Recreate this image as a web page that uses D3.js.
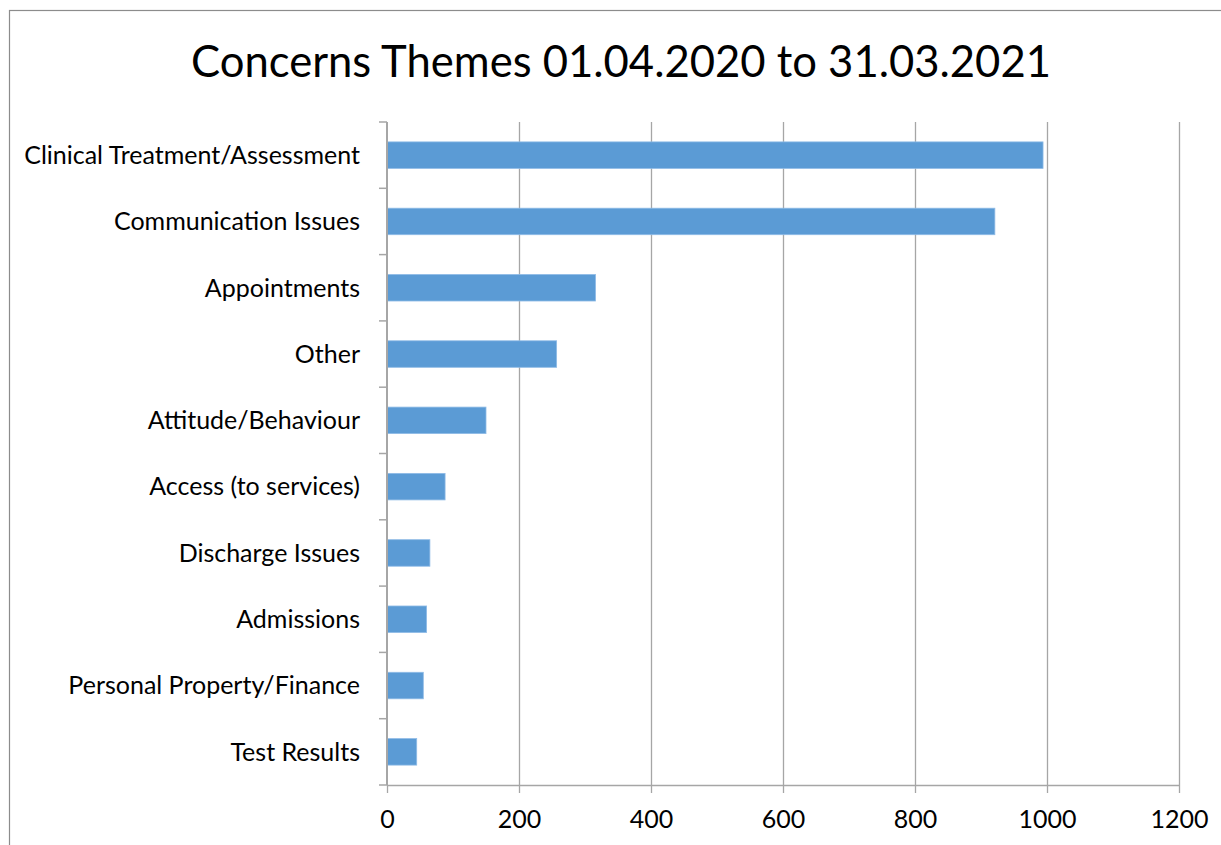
<!DOCTYPE html>
<html>
<head>
<meta charset="utf-8">
<script src="https://cdn.jsdelivr.net/npm/d3@7"></script>
<style>
  html, body { margin: 0; padding: 0; background: #fff; }
  svg { display: block; }
  text { font-family: Lato, "Open Sans", "Liberation Sans", sans-serif; fill: #000; }
</style>
</head>
<body>
<svg id="chart" width="1221" height="845"></svg>
<script>
// Concern themes, top to bottom
const categories = [
  "Clinical Treatment/Assessment",
  "Communication Issues",
  "Appointments",
  "Other",
  "Attitude/Behaviour",
  "Access (to services)",
  "Discharge Issues",
  "Admissions",
  "Personal Property/Finance",
  "Test Results"
];
// Number of concerns per theme
const counts = [994, 921, 316, 257, 150, 88, 65, 60, 55, 45];
// Value axis ticks
const xTicks = [0, 200, 400, 600, 800, 1000, 1200];
const chartTitle = "Concerns Themes 01.04.2020 to 31.03.2021";

const W = 1221, H = 845;
const plot = { left: 387, right: 1179, top: 122, bottom: 785 };

const svg = d3.select("#chart");

// Outer chart frame (runs off the right and bottom of the page)
svg.append("rect")
  .attr("x", 9.5).attr("y", 10.5)
  .attr("width", W + 20).attr("height", H + 20)
  .attr("fill", "none").attr("stroke", "#8c8c8c").attr("stroke-width", 1.2);

svg.append("text")
  .attr("x", 621).attr("y", 77)
  .attr("text-anchor", "middle")
  .style("font-size", "43.6px")
  .text(chartTitle);

const x = d3.scaleLinear().domain([0, 1200]).range([plot.left, plot.right]);
const y = d3.scaleBand().domain(categories)
  .range([plot.top, plot.bottom])
  .paddingInner(0.6).paddingOuter(0.3);

// Vertical gridlines
svg.append("g").selectAll("line")
  .data(xTicks.filter(d => d > 0))
  .join("line")
  .attr("x1", d => Math.round(x(d)) + 0.5).attr("x2", d => Math.round(x(d)) + 0.5)
  .attr("y1", plot.top).attr("y2", plot.bottom)
  .attr("stroke", "#a6a6a6").attr("stroke-width", 1.3);

// Bottom value axis
const xAxis = d3.axisBottom(x).tickValues(xTicks).tickFormat(d3.format("d"))
  .tickSize(8).tickPadding(17).tickSizeOuter(0);
const gx = svg.append("g").attr("transform", `translate(0,${plot.bottom})`).call(xAxis);
gx.select(".domain").attr("stroke", "#a6a6a6").attr("stroke-width", 1.5);
gx.selectAll(".tick line").attr("stroke", "#a6a6a6").attr("stroke-width", 1.3);
gx.selectAll(".tick text")
  .style("font-size", "25px")
  .style("font-family", "Lato, 'Open Sans', sans-serif")
  .attr("fill", "#000");

// Bars
svg.append("g").selectAll("rect")
  .data(categories.map((c, i) => ({ c, v: counts[i] })))
  .join("rect")
  .attr("x", x(0))
  .attr("y", d => y(d.c))
  .attr("width", d => x(d.v) - x(0))
  .attr("height", y.bandwidth())
  .attr("fill", "#5b9bd5")
  .attr("stroke", "#8fbbe6").attr("stroke-width", 0.8);

// Category axis line and boundary ticks
const step = y.step();
const bounds = categories.map(c => y(c) - step * y.paddingOuter()).concat([plot.bottom]);
svg.append("g").selectAll("line")
  .data(bounds)
  .join("line")
  .attr("x1", plot.left - 8).attr("x2", plot.left)
  .attr("y1", d => d).attr("y2", d => d)
  .attr("stroke", "#a6a6a6").attr("stroke-width", 1.5);
svg.append("line")
  .attr("x1", plot.left).attr("x2", plot.left)
  .attr("y1", plot.top).attr("y2", plot.bottom)
  .attr("stroke", "#a6a6a6").attr("stroke-width", 2);

// Category labels
svg.append("g").selectAll("text")
  .data(categories)
  .join("text")
  .attr("x", 360)
  .attr("y", d => y(d) + y.bandwidth() / 2)
  .attr("dy", "0.35em")
  .attr("text-anchor", "end")
  .style("font-size", "25px")
  .text(d => d);
</script>
</body>
</html>
